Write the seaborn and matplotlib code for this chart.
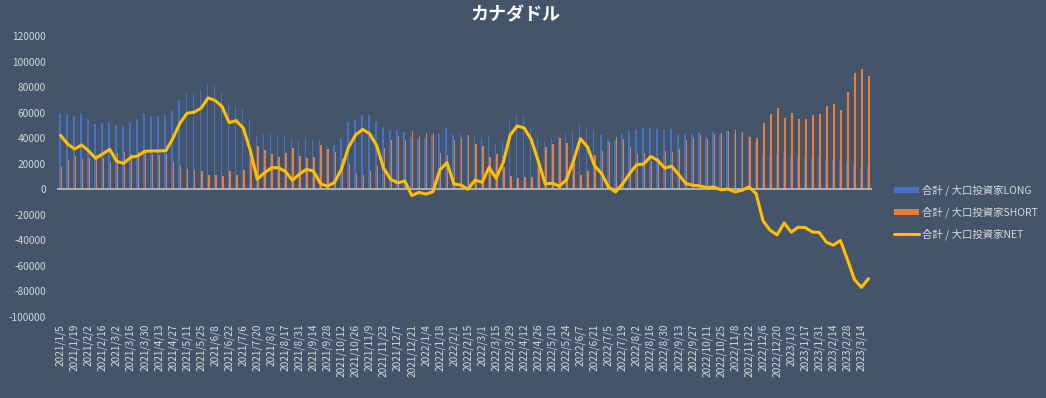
import numpy as np
import pandas as pd
import matplotlib
matplotlib.use("Agg")
import matplotlib.pyplot as plt
import seaborn as sns
from matplotlib.patches import Patch
from matplotlib.lines import Line2D

# ---------------- data ----------------
start_date = "2021-01-05"
n_weeks = 116
dates = pd.date_range(start_date, periods=n_weeks, freq="7D")
date_labels = [f"{d.year}/{d.month}/{d.day}" for d in dates]

long_vals = [
    60000, 58700, 57600, 58700, 54800, 51100, 51900, 52900, 50300, 49500,
    52700, 55300, 58900, 57400, 57100, 58100, 61300, 70100, 75100, 75400,
    77700, 82700, 80800, 75400, 66800, 64900, 63100, 54800, 41800, 43600,
    44400, 42300, 42600, 39200, 38100, 40200, 39200, 38800, 33900, 34700,
    40000, 52600, 54400, 58100, 58100, 52600, 48800, 46300, 46400, 45000,
    40700, 39300, 40000, 42500, 43300, 47800, 42800, 43500, 42700, 42800,
    39400, 42500, 36300, 37800, 53200, 58200, 57400, 48800, 40000, 37000,
    40000, 42500, 43300, 45600, 50800, 47700, 45600, 42500, 39200, 38700,
    43300, 45600, 47000, 48000, 48000, 47000, 46200, 47000, 42800, 43000,
    43000, 44800, 40800, 44800, 43600, 45600, 44300, 43800, 42500, 36700,
    27300, 26800, 27600, 29200, 26000, 25000, 24700, 24700, 25000, 23700,
    22900, 21900, 21100, 20800, 17700, 18500,
]
short_vals = [
    17800, 23200, 26100, 24000, 24800, 26900, 24200, 21600, 28400, 29200,
    27600, 29200, 29200, 27400, 27100, 27900, 21400, 18300, 15600, 15100,
    14300, 11200, 11200, 10700, 14600, 11200, 15100, 24000, 34000, 30900,
    27700, 25400, 28500, 32200, 26200, 24600, 24900, 34400, 31500, 29400,
    24000, 19600, 11900, 11200, 14600, 18500, 32600, 38500, 41400, 38500,
    45600, 41700, 43800, 44400, 28100, 27000, 38700, 40200, 42700, 35600,
    34000, 25400, 27700, 17100, 10700, 8600, 9400, 9900, 18000, 32900,
    35200, 40100, 35900, 23600, 11200, 14600, 27000, 30100, 37400, 40800,
    39100, 33300, 27800, 28300, 22300, 24400, 29600, 29000, 31400, 38500,
    39800, 42200, 39600, 43000, 44000, 45400, 46400, 44600, 40600, 40100,
    52100, 58900, 63300, 55500, 59600, 54700, 54700, 58100, 58900, 65100,
    66700, 62000, 76000, 91400, 94500, 88500,
]
net_vals = [
    42200, 35500, 31500, 34700, 30000, 24200, 27700, 31300, 21900, 20300,
    25100, 26100, 29700, 30000, 30000, 30200, 39900, 51800, 59500, 60300,
    63400, 71500, 69600, 64700, 52200, 53700, 48000, 30800, 7800, 12700,
    16700, 16900, 14100, 7000, 11900, 15600, 14300, 4400, 2400, 5300,
    16000, 33000, 42500, 46900, 43500, 34100, 16200, 7800, 5000, 6500,
    -4900, -2400, -3800, -1900, 15200, 20800, 4100, 3300, 0, 7200,
    5400, 17100, 8600, 20700, 42500, 49600, 48000, 38900, 22000, 4100,
    4800, 2400, 7400, 22000, 39600, 33100, 18600, 12400, 1800, -2100,
    4200, 12300, 19200, 19700, 25700, 22600, 16600, 18000, 11400, 4500,
    3200, 2600, 1200, 1800, -400, 200, -2100, -800, 1900, -3400,
    -24800, -32100, -35700, -26300, -33600, -29700, -30000, -33400, -33900, -41400,
    -43800, -40100, -54900, -70600, -76800, -70000,
]

series_names = ["合計 / 大口投資家LONG", "合計 / 大口投資家SHORT", "合計 / 大口投資家NET"]
title_text = "カナダドル"
y_ticks = list(range(-100000, 120001, 20000))

# ---------------- style ----------------
BG = "#44546A"
TXT = "#D9D9D9"
C_LONG = "#4472C4"
C_SHORT = "#ED7D31"
C_NET = "#FFC000"

sns.set_theme(style="white")
plt.rcParams["font.family"] = ["Noto Sans CJK JP", "DejaVu Sans"]

idx = np.arange(n_weeks)
bars_df = pd.DataFrame({
    "idx": np.concatenate([idx, idx]),
    "value": long_vals + short_vals,
    "series": [series_names[0]] * n_weeks + [series_names[1]] * n_weeks,
})
net_df = pd.DataFrame({"idx": idx, "value": net_vals})

fig = plt.figure(figsize=(10.46, 3.98), dpi=100, facecolor=BG)
ax = fig.add_axes([57 / 1046, 1 - 317 / 398, (872 - 57) / 1046, (317 - 36) / 398])
ax.set_facecolor(BG)

sns.barplot(data=bars_df, x="idx", y="value", hue="series",
            palette=[C_LONG, C_SHORT], width=0.42, dodge=True,
            saturation=1, legend=False, ax=ax, linewidth=0)
ax.axhline(0, color="#BFBFBF", lw=1.2, zorder=2)
sns.lineplot(data=net_df, x="idx", y="value", color=C_NET, lw=2.2,
             ax=ax, zorder=3, legend=False)

ax.set_xlim(-0.5, n_weeks - 0.5)
ax.set_ylim(-100000, 120000)
ax.set_yticks(y_ticks)
ax.set_yticklabels([str(v) for v in y_ticks], color=TXT, fontsize=7.3)
ax.set_xticks(idx[::2])
ax.set_xticklabels([date_labels[i] for i in idx[::2]], rotation=90,
                   color=TXT, fontsize=7.3)
ax.tick_params(axis="y", length=0, pad=8)
ax.tick_params(axis="x", length=0, pad=5)
ax.set_xlabel("")
ax.set_ylabel("")
for s in ax.spines.values():
    s.set_visible(False)

fig.text(0.493, 0.962, title_text, ha="center", va="center",
         color="white", fontsize=13, fontweight="bold")

handles = [
    Patch(facecolor=C_LONG, edgecolor="none"),
    Patch(facecolor=C_SHORT, edgecolor="none"),
    Line2D([0], [0], color=C_NET, lw=2.2),
]
leg = fig.legend(handles, series_names, loc="center left",
                 bbox_to_anchor=(0.846, 0.467), frameon=False,
                 fontsize=7.5, labelcolor=TXT, handlelength=2.4,
                 handleheight=0.5, labelspacing=1.0, handletextpad=0.3)

fig.savefig("out.png", dpi=100, facecolor=BG)
